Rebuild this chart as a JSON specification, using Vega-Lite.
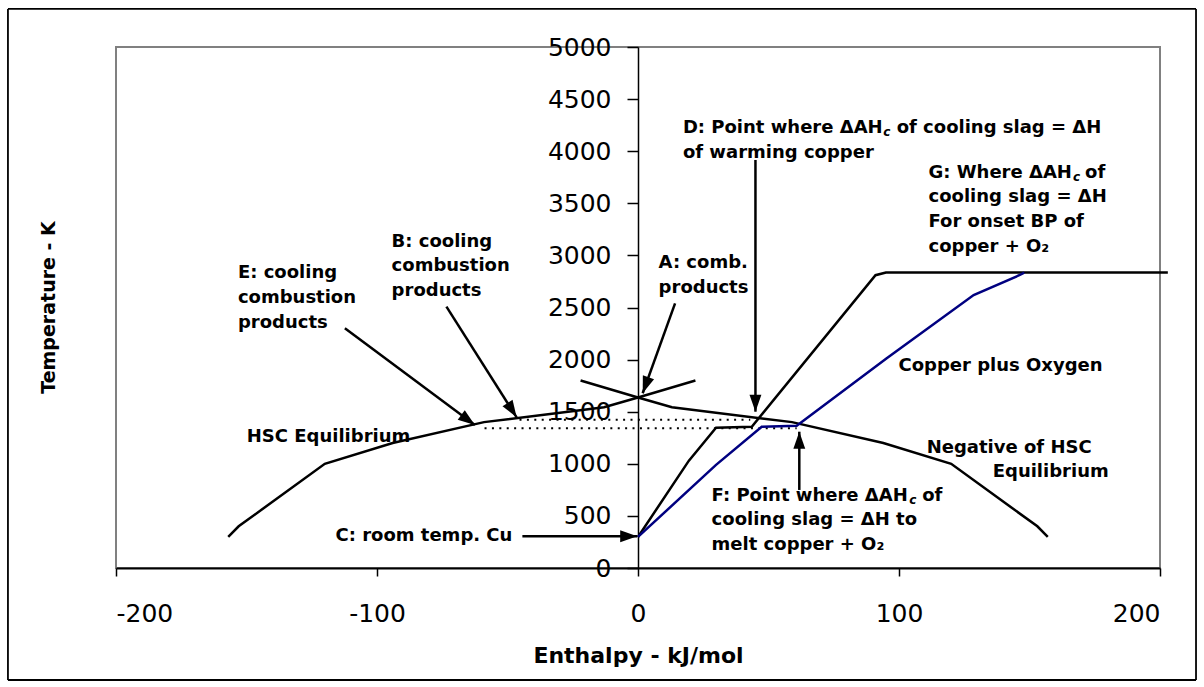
{
  "$schema": "https://vega.github.io/schema/vega-lite/v6.json",
  "width": 1044,
  "height": 521,
  "autosize": {"type": "none"},
  "padding": {"left": 116, "top": 47, "right": 44, "bottom": 119},
  "background": "white",
  "config": {
    "view": {"stroke": "#808080", "strokeWidth": 2},
    "text": {"font": "DejaVu Sans", "color": "black"}
  },
  "datasets": {
    "curves": [
      {"series": "HSC Equilibrium", "h": -157, "t": 298},
      {"series": "HSC Equilibrium", "h": -153, "t": 400},
      {"series": "HSC Equilibrium", "h": -120, "t": 1000},
      {"series": "HSC Equilibrium", "h": -94, "t": 1200},
      {"series": "HSC Equilibrium", "h": -59, "t": 1400},
      {"series": "HSC Equilibrium", "h": -13, "t": 1542},
      {"series": "HSC Equilibrium", "h": 0, "t": 1636},
      {"series": "HSC Equilibrium", "h": 22, "t": 1800},
      {"series": "Negative of HSC Equilibrium", "h": -22, "t": 1800},
      {"series": "Negative of HSC Equilibrium", "h": 0, "t": 1636},
      {"series": "Negative of HSC Equilibrium", "h": 13, "t": 1542},
      {"series": "Negative of HSC Equilibrium", "h": 59, "t": 1400},
      {"series": "Negative of HSC Equilibrium", "h": 94, "t": 1200},
      {"series": "Negative of HSC Equilibrium", "h": 120, "t": 1000},
      {"series": "Negative of HSC Equilibrium", "h": 153, "t": 400},
      {"series": "Negative of HSC Equilibrium", "h": 157, "t": 298},
      {"series": "Copper", "h": 0, "t": 298},
      {"series": "Copper", "h": 19.5, "t": 1030},
      {"series": "Copper", "h": 29.9, "t": 1347},
      {"series": "Copper", "h": 43.6, "t": 1356},
      {"series": "Copper", "h": 91, "t": 2810},
      {"series": "Copper", "h": 95, "t": 2835},
      {"series": "Copper", "h": 203, "t": 2835},
      {"series": "Copper plus Oxygen", "h": 0, "t": 298},
      {"series": "Copper plus Oxygen", "h": 29.9, "t": 990},
      {"series": "Copper plus Oxygen", "h": 47.4, "t": 1356},
      {"series": "Copper plus Oxygen", "h": 60.8, "t": 1366},
      {"series": "Copper plus Oxygen", "h": 95.3, "t": 2012},
      {"series": "Copper plus Oxygen", "h": 128.6, "t": 2620},
      {"series": "Copper plus Oxygen", "h": 146.3, "t": 2812},
      {"series": "Copper plus Oxygen", "h": 148, "t": 2835}
    ],
    "levels": [
      {"h": -45.4, "h2": 43.0, "t": 1422},
      {"h": -58.8, "h2": 60.8, "t": 1342}
    ],
    "arrows": [
      {"id": "A", "h": 14.2, "t": 2540, "h2": 1.8, "t2": 1677},
      {"id": "B", "h": -73.4, "t": 2508, "h2": -46.5, "t2": 1446},
      {"id": "E", "h": -112.3, "t": 2300, "h2": -62.5, "t2": 1372},
      {"id": "C", "h": -44.3, "t": 305, "h2": -0.3, "t2": 305},
      {"id": "D", "h": 45, "t": 3916, "h2": 45, "t2": 1500},
      {"id": "F", "h": 61.8, "t": 749, "h2": 61.8, "t2": 1308}
    ],
    "notes": [
      {"label": "E: cooling\ncombustion\nproducts", "h": -153.3, "t": 2780},
      {"label": "B: cooling\ncombustion\nproducts", "h": -94.4, "t": 3084},
      {"label": "A: comb.\nproducts", "h": 7.9, "t": 2876},
      {"label": "D: Point where ΔAH\nof warming copper", "h": 17.2, "t": 4172},
      {"label": "of cooling slag = ΔH", "h": 99.1, "t": 4172},
      {"label": "G: Where ΔAH\ncooling slag = ΔH\nFor onset BP of\ncopper + O₂", "h": 111.3, "t": 3746},
      {"label": "of", "h": 171.3, "t": 3746},
      {"label": "HSC Equilibrium", "h": -149.9, "t": 1212},
      {"label": "C: room temp. Cu", "h": -115.9, "t": 262},
      {"label": "Copper plus Oxygen", "h": 99.8, "t": 1890},
      {"label": "Negative of HSC", "h": 110.6, "t": 1100},
      {"label": "Equilibrium", "h": 135.9, "t": 870},
      {"label": "F: Point where ΔAH\ncooling slag = ΔH to\nmelt copper + O₂", "h": 28.2, "t": 646},
      {"label": "of", "h": 108.9, "t": 646}
    ],
    "subscripts": [
      {"label": "c", "h": 94.0, "t": 4172},
      {"label": "c", "h": 166.7, "t": 3746},
      {"label": "c", "h": 103.9, "t": 646}
    ]
  },
  "encoding": {
    "x": {
      "field": "h",
      "type": "quantitative",
      "scale": {"domain": [-200, 200], "nice": false, "zero": false},
      "axis": {
        "orient": "bottom",
        "values": [-200, -100, 0, 100, 200],
        "labelExpr": "'' + datum.value",
        "grid": false,
        "domainColor": "black",
        "domainWidth": 2,
        "tickColor": "black",
        "tickWidth": 1.5,
        "tickSize": 8,
        "labelFont": "DejaVu Sans",
        "labelFontSize": 25,
        "labelColor": "black",
        "labelPadding": 25,
        "title": "Enthalpy - kJ/mol",
        "titleFont": "DejaVu Sans",
        "titleFontWeight": "bold",
        "titleFontSize": 22,
        "titleColor": "black",
        "titleBaseline": "alphabetic",
        "titleY": 94
      }
    },
    "y": {
      "field": "t",
      "type": "quantitative",
      "scale": {"domain": [0, 5000], "nice": false, "zero": false},
      "axis": {
        "orient": "left",
        "offset": -522,
        "values": [0, 500, 1000, 1500, 2000, 2500, 3000, 3500, 4000, 4500, 5000],
        "format": "d",
        "grid": false,
        "domainColor": "black",
        "domainWidth": 1.5,
        "tickColor": "black",
        "tickWidth": 1.5,
        "tickSize": 11,
        "labelFont": "DejaVu Sans",
        "labelFontSize": 25,
        "labelColor": "black",
        "labelPadding": 16,
        "title": "Temperature - K",
        "titleFont": "DejaVu Sans",
        "titleFontWeight": "bold",
        "titleFontSize": 19,
        "titleColor": "black",
        "titleAngle": -90,
        "titleAlign": "center",
        "titleBaseline": "alphabetic",
        "titleX": -584,
        "titleY": 260
      }
    }
  },
  "layer": [
    {
      "data": {"values": [{"left": -241.4, "right": 213.8, "top": 5365, "bottom": -1075}]},
      "mark": {"type": "rule", "color": "black", "strokeWidth": 1.8, "clip": false},
      "encoding": {
        "x": {"field": "left", "type": "quantitative"},
        "x2": {"field": "right"},
        "y": {"field": "top", "type": "quantitative"}
      }
    },
    {
      "data": {"values": [{"left": -241.4, "right": 213.8, "top": 5365, "bottom": -1075}]},
      "mark": {"type": "rule", "color": "black", "strokeWidth": 1.8, "clip": false},
      "encoding": {
        "x": {"field": "left", "type": "quantitative"},
        "x2": {"field": "right"},
        "y": {"field": "bottom", "type": "quantitative"}
      }
    },
    {
      "data": {"values": [{"left": -241.4, "right": 213.8, "top": 5365, "bottom": -1075}]},
      "mark": {"type": "rule", "color": "black", "strokeWidth": 1.8, "clip": false},
      "encoding": {
        "x": {"field": "left", "type": "quantitative"},
        "y": {"field": "bottom", "type": "quantitative"},
        "y2": {"field": "top"}
      }
    },
    {
      "data": {"values": [{"left": -241.4, "right": 213.8, "top": 5365, "bottom": -1075}]},
      "mark": {"type": "rule", "color": "black", "strokeWidth": 1.8, "clip": false},
      "encoding": {
        "x": {"field": "right", "type": "quantitative"},
        "y": {"field": "bottom", "type": "quantitative"},
        "y2": {"field": "top"}
      }
    },
    {
      "data": {"name": "levels"},
      "mark": {"type": "rule", "color": "black", "strokeWidth": 2, "strokeDash": [2, 5.4]},
      "encoding": {"x2": {"field": "h2"}}
    },
    {
      "data": {"name": "curves"},
      "mark": {"type": "line", "strokeWidth": 2.5, "strokeJoin": "miter"},
      "encoding": {
        "color": {
          "field": "series",
          "type": "nominal",
          "scale": {
            "domain": ["HSC Equilibrium", "Negative of HSC Equilibrium", "Copper", "Copper plus Oxygen"],
            "range": ["#000000", "#000000", "#000000", "#000080"]
          },
          "legend": null
        }
      }
    },
    {
      "data": {"name": "arrows"},
      "mark": {"type": "rule", "color": "black", "strokeWidth": 2.5},
      "encoding": {"x2": {"field": "h2"}, "y2": {"field": "t2"}}
    },
    {
      "data": {"name": "arrows"},
      "mark": {"type": "point", "shape": "M0,0L0.7,2L-0.7,2Z", "filled": true, "color": "black", "opacity": 1, "size": 289, "strokeWidth": 0},
      "encoding": {
        "x": {"field": "h2", "type": "quantitative"},
        "y": {"field": "t2", "type": "quantitative"},
        "angle": {
          "condition": [
            {"test": "datum.id === 'A'", "value": 199.8},
            {"test": "datum.id === 'B'", "value": 147.6},
            {"test": "datum.id === 'E'", "value": 126.6},
            {"test": "datum.id === 'C'", "value": 90},
            {"test": "datum.id === 'D'", "value": 180}
          ],
          "value": 0
        }
      }
    },
    {
      "data": {"name": "notes"},
      "mark": {"type": "text", "align": "left", "baseline": "alphabetic", "fontWeight": "bold", "fontSize": 18, "lineBreak": "\n", "lineHeight": 24.7},
      "encoding": {"text": {"field": "label"}}
    },
    {
      "data": {"name": "subscripts"},
      "mark": {"type": "text", "align": "left", "baseline": "alphabetic", "fontWeight": "bold", "fontStyle": "italic", "fontSize": 12, "dy": 3},
      "encoding": {"text": {"field": "label"}}
    }
  ]
}
